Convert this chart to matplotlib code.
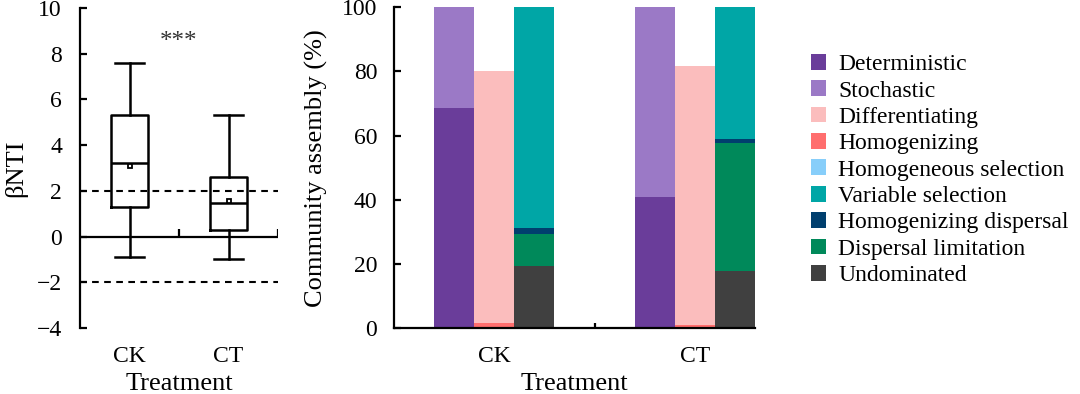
import matplotlib
matplotlib.use("Agg")
import matplotlib.pyplot as plt
from matplotlib.patches import Patch
import numpy as np

plt.rcParams['font.family'] = ['Liberation Serif', 'DejaVu Serif']
plt.rcParams['font.size'] = 16

# ---- data: boxplot (betaNTI) ----
groups = ["CK", "CT"]
whislo = [-0.9, -1.0]
q1 = [1.3, 0.3]
med = [3.2, 1.45]
mean = [3.1, 1.55]
q3 = [5.3, 2.6]
whishi = [7.6, 5.3]
signif = "***"

# ---- data: stacked bars (community assembly, %) ----
treatments = ["CK", "CT"]
deterministic = [68.5, 41.0]
stochastic = [31.5, 59.0]
homogenizing = [1.8, 1.1]
differentiating = [78.5, 80.7]
undominated = [19.5, 18.0]
dispersal_limitation = [9.8, 39.6]
homogenizing_dispersal = [1.9, 1.3]
homogeneous_selection = [0.0, 0.0]
variable_selection = [68.8, 41.1]

labels = ["Deterministic", "Stochastic", "Differentiating", "Homogenizing",
          "Homogeneous selection", "Variable selection", "Homogenizing dispersal",
          "Dispersal limitation", "Undominated"]
colors = {"Deterministic": "#6A3D9A", "Stochastic": "#9B79C6",
          "Differentiating": "#FBBDBD", "Homogenizing": "#FF6E6E",
          "Homogeneous selection": "#87CEFA", "Variable selection": "#00A6A6",
          "Homogenizing dispersal": "#003F6E", "Dispersal limitation": "#00895A",
          "Undominated": "#404040"}

fig = plt.figure(figsize=(10.8, 3.94), dpi=100)
LW = 1.8

# ---------------- left panel ----------------
ax1 = fig.add_axes([80/1080, 66/394, 198/1080, 320/394])
pos = np.arange(1, len(groups) + 1)
stats = [dict(label=g, whislo=whislo[i], q1=q1[i], med=med[i], q3=q3[i],
              whishi=whishi[i], mean=mean[i], fliers=[]) for i, g in enumerate(groups)]
ax1.bxp(stats, positions=pos, widths=0.38, showmeans=True, showfliers=False,
        capwidths=0.29,
        boxprops=dict(color='black', linewidth=LW),
        medianprops=dict(color='black', linewidth=LW),
        whiskerprops=dict(color='black', linewidth=LW),
        capprops=dict(color='black', linewidth=LW),
        meanprops=dict(marker='s', markersize=3.5, markerfacecolor='white',
                       markeredgecolor='black', markeredgewidth=1.3))
ax1.axhline(2, color='black', linestyle=(0, (3.2, 2.6)), linewidth=1.5)
ax1.axhline(-2, color='black', linestyle=(0, (3.2, 2.6)), linewidth=1.5)
ax1.axhline(0, color='black', linewidth=1.6)
ax1.vlines([1.5, 2.5], 0, 0.35, color='black', linewidth=1.6)
ax1.set_xlim(0.5, 2.5)
ax1.set_ylim(-4, 10)
ax1.set_yticks(np.arange(-4, 11, 2))
ax1.set_yticklabels([("\u2212" + str(abs(v))) if v < 0 else str(v) for v in range(-4, 11, 2)])
ax1.set_xticks(pos)
ax1.set_xticklabels(groups)
ax1.tick_params(axis='x', length=0, pad=13, labelsize=17)
ax1.tick_params(axis='y', direction='in', length=5, width=1.6, pad=13, labelsize=17)
for s in ['top', 'right', 'bottom']:
    ax1.spines[s].set_visible(False)
ax1.spines['left'].set_linewidth(1.6)
ax1.set_ylabel("\u03b2NTI", fontsize=19, labelpad=7)
ax1.set_xlabel("Treatment", fontsize=19, labelpad=4)
ax1.text(1.5, 8.5, signif, ha='center', va='center', fontsize=18, color='#333333')

# ---------------- right panel ----------------
ax2 = fig.add_axes([394/1080, 65.7/394, 361/1080, 321/394])
x = np.arange(len(treatments))
bw = 0.2
# bar 1
ax2.bar(x - bw, deterministic, bw, color=colors["Deterministic"], edgecolor='none')
ax2.bar(x - bw, stochastic, bw, bottom=deterministic, color=colors["Stochastic"], edgecolor='none')
# bar 2
ax2.bar(x, homogenizing, bw, color=colors["Homogenizing"], edgecolor='none')
ax2.bar(x, differentiating, bw, bottom=homogenizing, color=colors["Differentiating"], edgecolor='none')
# bar 3
b = np.zeros(len(treatments))
for name, vals in [("Undominated", undominated), ("Dispersal limitation", dispersal_limitation),
                   ("Homogenizing dispersal", homogenizing_dispersal),
                   ("Homogeneous selection", homogeneous_selection),
                   ("Variable selection", variable_selection)]:
    ax2.bar(x + bw, vals, bw, bottom=b, color=colors[name], edgecolor='none')
    b = b + np.array(vals)

ax2.set_xlim(-0.5, 1.3)
ax2.set_ylim(0, 100)
ax2.set_yticks(np.arange(0, 101, 20))
ax2.set_xticks(x)
ax2.set_xticklabels(treatments)
ax2.tick_params(axis='x', length=0, pad=13, labelsize=17)
ax2.tick_params(axis='y', direction='in', length=5, width=1.6, pad=12, labelsize=17)
ax2.vlines([0.5], 0, 1.8, color='black', linewidth=1.6)
for s in ['top', 'right']:
    ax2.spines[s].set_visible(False)
ax2.spines['left'].set_linewidth(1.6)
ax2.spines['bottom'].set_linewidth(1.6)
ax2.set_ylabel("Community assembly (%)", fontsize=19, labelpad=10)
ax2.set_xlabel("Treatment", fontsize=19, labelpad=4)

handles = [Patch(facecolor=colors[l], edgecolor='none') for l in labels]
fig.legend(handles, labels, loc='upper left', bbox_to_anchor=(811/1080, 1 - 54/394),
           frameon=False, fontsize=17, handlelength=0.65, handleheight=0.65,
           handletextpad=0.5, labelspacing=0.22, borderaxespad=0, borderpad=0)

fig.savefig("out.png", dpi=100)
